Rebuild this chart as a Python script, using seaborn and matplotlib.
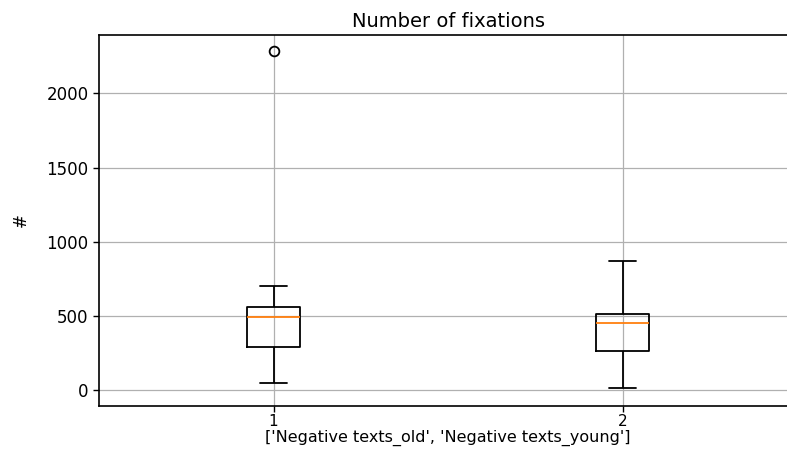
import matplotlib
matplotlib.use("Agg")
import matplotlib.pyplot as plt
import seaborn as sns
import pandas as pd

# Values (whisker ends, quartiles, median, outliers)
groups = [1, 2]
old_values = [51, 292, 292, 496, 496, 561, 561, 702, 2285]
young_values = [15, 267, 267, 455, 455, 455, 515, 515, 871]
xtick_labels = ["1", "2"]
title = "Number of fixations"
xlabel = "['Negative texts_old', 'Negative texts_young']"
ylabel = "#"

df = pd.DataFrame({
    "group": [groups[0]] * len(old_values) + [groups[1]] * len(young_values),
    "value": old_values + young_values,
})

sns.set_style("ticks")
plt.rcParams["font.family"] = ["DejaVu Sans"]
plt.rcParams["text.color"] = "black"
plt.rcParams["axes.labelcolor"] = "black"
plt.rcParams["xtick.color"] = "black"
plt.rcParams["ytick.color"] = "black"

fig = plt.figure(figsize=(7.87, 4.5), dpi=100)
ax = fig.add_axes([0.1258, 0.0978, 0.887, 0.8244])

sns.boxplot(
    data=df, x="group", y="value", native_scale=True, ax=ax,
    fill=False, color="black", width=0.15, linewidth=1.3,
    medianprops=dict(color="#ff7f0e", linewidth=1.3),
    flierprops=dict(marker="o", markerfacecolor="none",
                    markeredgecolor="black", markersize=7, markeredgewidth=1.3),
)

ax.set_xlim(0.5, 2.5)
ax.set_ylim(-106, 2393)
ax.set_xticks(groups)
ax.set_xticklabels(xtick_labels)
ax.set_yticks([0, 500, 1000, 1500, 2000])
ax.grid(True, color="#b0b0b0", linewidth=0.9)
ax.set_axisbelow(True)
for s in ax.spines.values():
    s.set_linewidth(1.2)
    s.set_color("black")
ax.tick_params(axis="y", labelsize=12, length=4, width=1)
ax.tick_params(axis="x", labelsize=11, length=4, width=1, pad=2)
ax.set_title(title, fontsize=14, pad=6)
ax.set_xlabel(xlabel, fontsize=11.5, labelpad=0)
ax.set_ylabel(ylabel, fontsize=12, labelpad=12)

fig.savefig("out.png", dpi=100)
